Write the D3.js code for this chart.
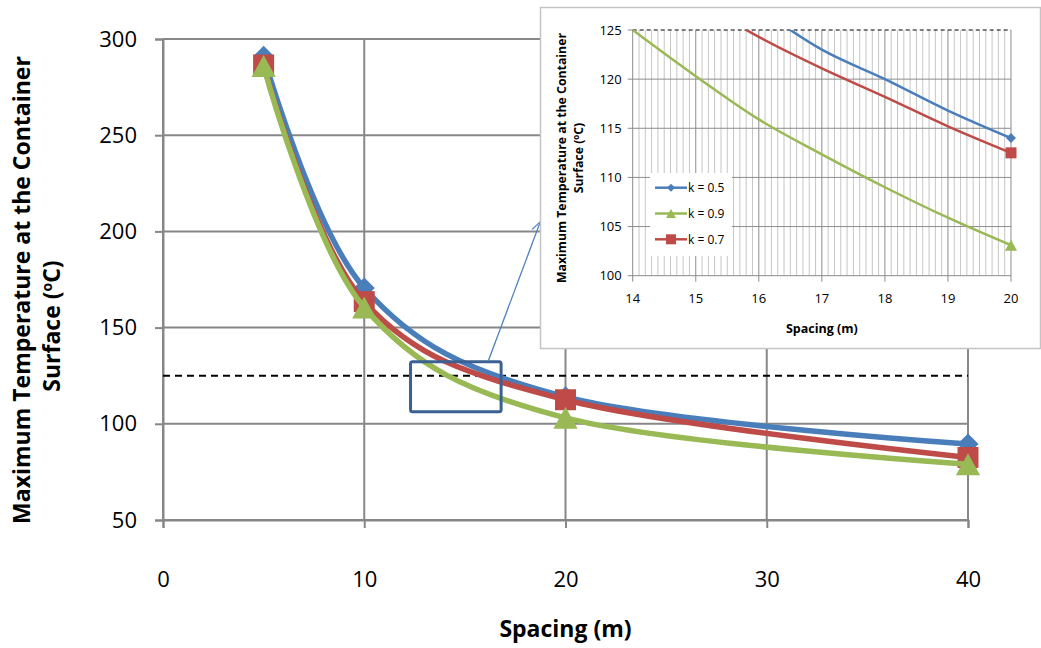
<!DOCTYPE html>
<html><head><meta charset="utf-8">
<script src="https://cdn.jsdelivr.net/npm/d3@7"></script>
<style>
body{margin:0;background:#fff}
svg{display:block}
text{font-family:'Open Sans',sans-serif;fill:#000}
</style>
</head><body>
<svg id="c" width="1041" height="648"></svg>
<script>
// ---------- data (main chart) ----------
const spacing = [5, 10, 20, 40];
const k05 = [291, 170.6, 114, 89.5];
const k07 = [286.5, 163.5, 112.5, 82.5];
const k09 = [286, 160.5, 103.1, 79];
const xTicks = [0, 10, 20, 30, 40];
const yTicks = [50, 100, 150, 200, 250, 300];
const threshold = 125;
const zoomBoxX = [12.3, 16.8];
const zoomBoxY = [106.3, 132.3];
const arrowFrom = [16.15, 132.3];
const arrowTo = [18.75, 205];
// ---------- data (inset) ----------
const insetSpacing = [14, 15, 16, 17, 18, 19, 20];
const inset05 = [null, null, 127.2, 123.0, 120.0, 116.8, 114.0];
const inset07 = [null, 128.0, 124.3, 121.1, 118.2, 115.2, 112.5];
const inset09 = [125.0, 120.3, 115.9, 112.35, 109.0, 105.9, 103.1];
const insetXTicks = [14, 15, 16, 17, 18, 19, 20];
const insetYTicks = [100, 105, 110, 115, 120, 125];
const legendOrder = ["k = 0.5", "k = 0.9", "k = 0.7"];

const colors = {"k = 0.5": "#4a7ebb", "k = 0.7": "#be4b48", "k = 0.9": "#98b954"};
const shapes = {"k = 0.5": "diamond", "k = 0.7": "square", "k = 0.9": "triangle"};
const mainSeries = [
  {name: "k = 0.5", vals: k05},
  {name: "k = 0.7", vals: k07},
  {name: "k = 0.9", vals: k09}
];
const insetSeries = [
  {name: "k = 0.5", vals: inset05},
  {name: "k = 0.7", vals: inset07},
  {name: "k = 0.9", vals: inset09}
];

function shapePath(shape, s) {
  const h = s / 2;
  if (shape === "diamond") return `M0,${-h}L${h},0L0,${h}L${-h},0Z`;
  if (shape === "square") return `M${-h},${-h}H${h}V${h}H${-h}Z`;
  const w = s * 0.55;
  return `M0,${-h}L${w},${h}L${-w},${h}Z`;
}
const markerSize = {diamond: 21, square: 21, triangle: 22};
const insetMarkerSize = {diamond: 10, square: 11, triangle: 11};
const legendMarkerSize = {diamond: 8, square: 10, triangle: 9};

const svg = d3.select("#c");

// ---------- main chart ----------
const x = d3.scaleLinear().domain([0, 40]).range([163, 968]);
const y = d3.scaleLinear().domain([50, 300]).range([520, 39]);
const gridColor = "#878787";

const g = svg.append("g");
// grid
g.selectAll(".hg").data(yTicks).join("line")
  .attr("x1", x(0)).attr("x2", x(40)).attr("y1", d => y(d)).attr("y2", d => y(d))
  .attr("stroke", gridColor).attr("stroke-width", 2);
g.selectAll(".vg").data(xTicks).join("line")
  .attr("x1", d => x(d)).attr("x2", d => x(d)).attr("y1", y(300)).attr("y2", y(50))
  .attr("stroke", gridColor).attr("stroke-width", 2);

// axes
const yAxis = g.append("g").attr("transform", `translate(${x(0)},0)`)
  .call(d3.axisLeft(y).tickValues(yTicks).tickSize(8).tickPadding(18));
yAxis.select(".domain").attr("stroke", gridColor).attr("stroke-width", 2);
yAxis.selectAll(".tick line").attr("stroke", gridColor).attr("stroke-width", 2);
yAxis.selectAll(".tick text").attr("font-size", 22).attr("font-family", "'Open Sans',sans-serif").attr("fill", "#000");

const xAxis = g.append("g").attr("transform", `translate(0,${y(50)})`)
  .call(d3.axisBottom(x).tickValues(xTicks).tickSize(8).tickPadding(43));
xAxis.select(".domain").attr("stroke", gridColor).attr("stroke-width", 2);
xAxis.selectAll(".tick line").attr("stroke", gridColor).attr("stroke-width", 2);
xAxis.selectAll(".tick text").attr("font-size", 22).attr("font-family", "'Open Sans',sans-serif").attr("fill", "#000");

// titles
g.append("text").attr("x", (x(0) + x(40)) / 2).attr("y", 637)
  .attr("text-anchor", "middle").attr("font-size", 23).attr("font-weight", "bold")
  .text("Spacing (m)");
const yt1 = g.append("text").attr("transform", "translate(30,290) rotate(-90)")
  .attr("text-anchor", "middle").attr("font-size", 23).attr("font-weight", "bold")
  .text("Maximum Temperature at the Container");
const yt2 = g.append("text").attr("transform", "translate(60,326) rotate(-90)")
  .attr("text-anchor", "middle").attr("font-size", 23).attr("font-weight", "bold");
yt2.append("tspan").text("Surface (");
yt2.append("tspan").attr("font-size", 14).attr("dy", -8).text("o");
yt2.append("tspan").attr("dy", 8).text("C)");

// threshold dashed line
g.append("line").attr("x1", x(0)).attr("x2", x(40)).attr("y1", y(threshold)).attr("y2", y(threshold))
  .attr("stroke", "#000").attr("stroke-width", 2).attr("stroke-dasharray", "7,5");

// series
const line = d3.line().curve(d3.curveCardinal.tension(0))
  .x(d => x(d[0])).y(d => y(d[1]));
mainSeries.forEach(s => {
  const pts = spacing.map((sp, i) => [sp, s.vals[i]]);
  g.append("path").datum(pts).attr("d", line).attr("fill", "none")
    .attr("stroke", colors[s.name]).attr("stroke-width", 5.5).attr("stroke-linejoin", "round");
  g.selectAll(null).data(pts).join("path")
    .attr("transform", d => `translate(${x(d[0])},${y(d[1])})`)
    .attr("d", shapePath(shapes[s.name], markerSize[shapes[s.name]]))
    .attr("fill", colors[s.name]);
});

// zoom box
g.append("rect").attr("x", x(zoomBoxX[0])).attr("y", y(zoomBoxY[1]))
  .attr("width", x(zoomBoxX[1]) - x(zoomBoxX[0])).attr("height", y(zoomBoxY[0]) - y(zoomBoxY[1]))
  .attr("rx", 2).attr("fill", "none").attr("stroke", "#3b6192").attr("stroke-width", 3);

// arrow
const defs = svg.append("defs");
defs.append("marker").attr("id", "arr").attr("viewBox", "-12 -6 14 12")
  .attr("refX", 0).attr("refY", 0).attr("markerWidth", 14).attr("markerHeight", 12)
  .attr("markerUnits", "userSpaceOnUse").attr("orient", "auto")
  .append("path").attr("d", "M-10,-5L0,0L-10,5").attr("fill", "none")
  .attr("stroke", "#4f81bd").attr("stroke-width", 1.3);
g.append("line").attr("x1", x(arrowFrom[0])).attr("y1", y(arrowFrom[1]))
  .attr("x2", x(arrowTo[0])).attr("y2", y(arrowTo[1]))
  .attr("stroke", "#4f81bd").attr("stroke-width", 1.3).attr("marker-end", "url(#arr)");

// ---------- inset ----------
const ig = svg.append("g");
ig.append("rect").attr("x", 540.5).attr("y", 7.5).attr("width", 500).attr("height", 341)
  .attr("fill", "#fff").attr("stroke", "#c4c4c4").attr("stroke-width", 1.5);
const ix = d3.scaleLinear().domain([14, 20]).range([632.7, 1011]);
const iy = d3.scaleLinear().domain([100, 125]).range([275.7, 30]);

// minor verticals
const minorX = d3.range(140, 201).map(d => d / 10).filter(d => Math.abs(d - Math.round(d)) > 1e-6);
ig.selectAll(".mv").data(minorX).join("line")
  .attr("x1", d => ix(d)).attr("x2", d => ix(d)).attr("y1", iy(125)).attr("y2", iy(100))
  .attr("stroke", "#c6c6c6").attr("stroke-width", 1);
ig.selectAll(".Mv").data(insetXTicks).join("line")
  .attr("x1", d => ix(d)).attr("x2", d => ix(d)).attr("y1", iy(125)).attr("y2", iy(100) + 6)
  .attr("stroke", "#8c8c8c").attr("stroke-width", 1);
ig.selectAll(".Mh").data(insetYTicks.filter(d => d !== threshold)).join("line")
  .attr("x1", ix(14) - 5).attr("x2", ix(20)).attr("y1", d => iy(d)).attr("y2", d => iy(d))
  .attr("stroke", "#8c8c8c").attr("stroke-width", 1);
ig.append("line").attr("x1", ix(14) - 5).attr("x2", ix(14)).attr("y1", iy(125)).attr("y2", iy(125))
  .attr("stroke", "#8c8c8c").attr("stroke-width", 1);
ig.append("line").attr("x1", ix(14)).attr("x2", ix(20)).attr("y1", iy(threshold)).attr("y2", iy(threshold))
  .attr("stroke", "#000").attr("stroke-width", 1).attr("stroke-dasharray", "4,3");

// inset tick labels
ig.selectAll(".iyl").data(insetYTicks).join("text")
  .attr("x", ix(14) - 11).attr("y", d => iy(d)).attr("dy", "0.35em")
  .attr("text-anchor", "end").attr("font-size", 13).attr("fill", "#222").text(d => d);
ig.selectAll(".ixl").data(insetXTicks).join("text")
  .attr("x", d => ix(d)).attr("y", 303)
  .attr("text-anchor", "middle").attr("font-size", 13).attr("fill", "#222").text(d => d);
ig.append("text").attr("x", (ix(14) + ix(20)) / 2).attr("y", 333)
  .attr("text-anchor", "middle").attr("font-size", 12.5).attr("font-weight", "bold").attr("fill", "#222")
  .text("Spacing (m)");
ig.append("text").attr("transform", "translate(566,158) rotate(-90)")
  .attr("text-anchor", "middle").attr("font-size", 12.3).attr("font-weight", "bold").attr("fill", "#222")
  .text("Maximum Temperature at the Container");
const it2 = ig.append("text").attr("transform", "translate(583,158) rotate(-90)")
  .attr("text-anchor", "middle").attr("font-size", 12.3).attr("font-weight", "bold").attr("fill", "#222");
it2.append("tspan").text("Surface (");
it2.append("tspan").attr("font-size", 8).attr("dy", -4).text("o");
it2.append("tspan").attr("dy", 4).text("C)");

// clip + lines
defs.append("clipPath").attr("id", "iclip").append("rect")
  .attr("x", ix(14)).attr("y", iy(125)).attr("width", ix(20) - ix(14) + 3).attr("height", iy(100) - iy(125));
const iline = d3.line().defined(d => d[1] != null).curve(d3.curveCardinal.tension(0))
  .x(d => ix(d[0])).y(d => iy(d[1]));
insetSeries.forEach(s => {
  const pts = insetSpacing.map((sp, i) => [sp, s.vals[i]]);
  ig.append("path").datum(pts.filter(d => d[1] != null)).attr("d", iline).attr("fill", "none")
    .attr("clip-path", "url(#iclip)")
    .attr("stroke", colors[s.name]).attr("stroke-width", 2.5);
  const mk = pts.filter(d => d[1] != null && spacing.includes(d[0]));
  ig.selectAll(null).data(mk).join("path")
    .attr("transform", d => `translate(${ix(d[0])},${iy(d[1])})`)
    .attr("d", shapePath(shapes[s.name], insetMarkerSize[shapes[s.name]]))
    .attr("fill", colors[s.name]);
});

// legend
ig.append("rect").attr("x", 650).attr("y", 173).attr("width", 82).attr("height", 83).attr("fill", "#fff");
const lg = ig.selectAll(".lg").data(legendOrder).join("g")
  .attr("transform", (d, i) => `translate(655,${187.7 + i * 25.8})`);
lg.append("line").attr("x1", 0).attr("x2", 32).attr("stroke", d => colors[d]).attr("stroke-width", 2.5);
lg.append("path").attr("transform", "translate(16,0)")
  .attr("d", d => shapePath(shapes[d], legendMarkerSize[shapes[d]])).attr("fill", d => colors[d]);
lg.append("text").attr("x", 33).attr("dy", "0.35em").attr("font-size", 12).attr("fill", "#222").text(d => d);
</script>
</body></html>
